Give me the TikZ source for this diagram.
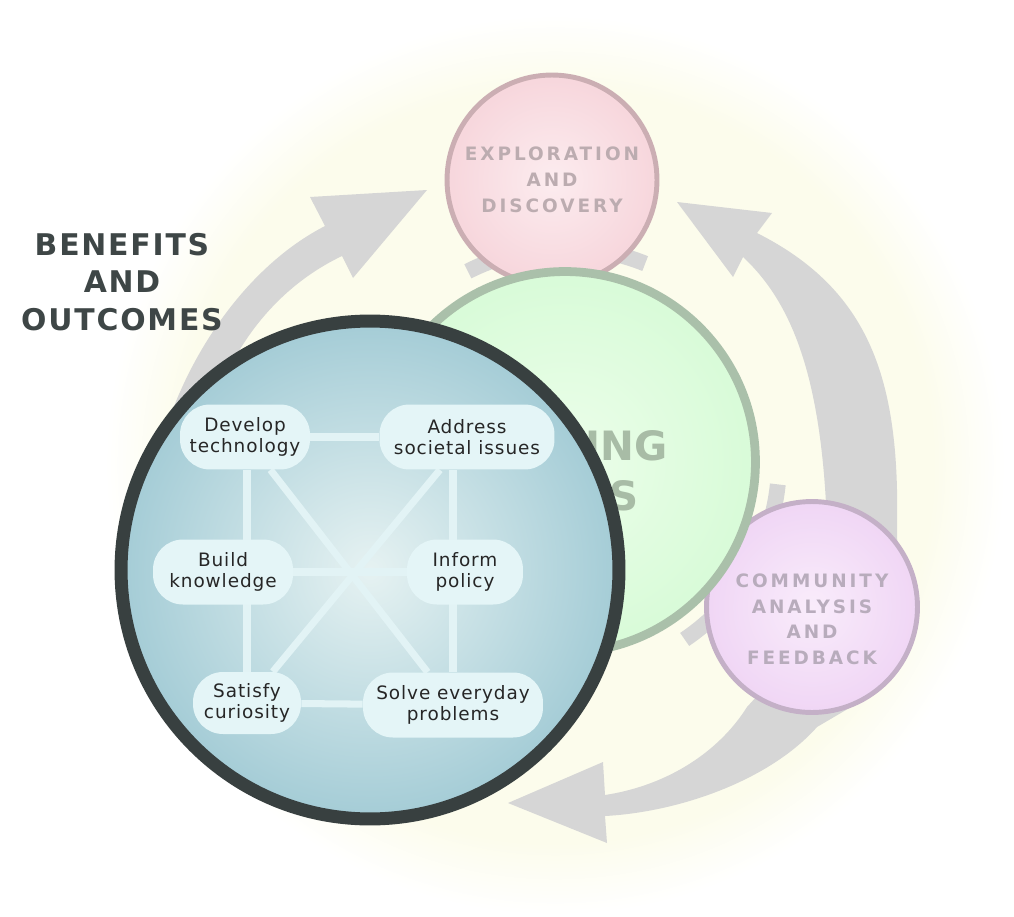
\documentclass[tikz,border=0pt]{standalone}
\usepackage{fontspec}
\setmainfont{DejaVu Sans}
\newfontfamily\pillfont[LetterSpace=5]{DejaVu Sans}
\newfontfamily\capsfont[LetterSpace=16]{DejaVu Sans}
\newfontfamily\headfont[LetterSpace=6]{DejaVu Sans}
\usepackage{tikz}

\definecolor{cream}{RGB}{252,252,236}
\definecolor{arrowgray}{RGB}{214,214,214}
\definecolor{pinkin}{RGB}{252,236,239}
\definecolor{pinkout}{RGB}{247,214,220}
\definecolor{pinkrim}{RGB}{203,174,179}
\definecolor{pinktext}{RGB}{188,172,176}
\definecolor{greenin}{RGB}{236,254,234}
\definecolor{greenout}{RGB}{216,251,216}
\definecolor{greenrim}{RGB}{170,192,170}
\definecolor{greentext}{RGB}{168,188,166}
\definecolor{lilacin}{RGB}{249,236,251}
\definecolor{lilacout}{RGB}{240,214,245}
\definecolor{lilacrim}{RGB}{196,176,199}
\definecolor{lilactext}{RGB}{184,172,188}
\definecolor{bluein}{RGB}{230,242,242}
\definecolor{blueout}{RGB}{164,204,214}
\definecolor{bluerim}{RGB}{56,64,64}
\definecolor{pillfill}{RGB}{228,245,247}
\definecolor{linkcol}{RGB}{226,243,245}
\definecolor{headcol}{RGB}{62,70,70}

\pgfdeclareradialshading{glow}{\pgfpoint{0bp}{0bp}}{color(0bp)=(cream); color(21bp)=(cream); color(25bp)=(white); color(50bp)=(white)}
\pgfdeclarelayer{bg}
\pgfdeclarelayer{fg}
\pgfsetlayers{bg,main,fg}

\begin{document}
\begin{tikzpicture}[x=0.02cm,y=-0.02cm,
    cnode/.style={draw,circle,inner sep=0pt,shade,align=center},
    captext/.style={align=center,font=\capsfont\bfseries\fontsize{10.5}{14.7}\selectfont},
    pill/.style={fill=pillfill,rounded corners=0.6cm,minimum height=1.3cm,inner sep=0pt,
        align=center,text=black!85,font=\pillfont\fontsize{10.5}{12}\selectfont},
    link/.style={draw=linkcol,line width=4pt},
    band/.style={fill=arrowgray},
    ring/.style={draw=arrowgray,line width=9pt}]
    \useasboundingbox (0,0) rectangle (1014,916);

    \begin{pgfonlayer}{bg}
    \shade[shading=glow] (555,465) circle[radius=450];
    \fill[band] (150,520) .. controls (150,420) and (220,280) .. (325,226) -- (310,197) -- (427,190)
        -- (353,278) -- (342,256) .. controls (250,300) and (195,400) .. (195,520) -- cycle;
    \fill[band] (898,580) -- (897,527) .. controls (900,380) and (870,290) .. (757,233) -- (772,213)
        -- (677,202) -- (733,277) -- (743,257) .. controls (800,310) and (828,400) .. (828,580) -- cycle;
    \fill[band] (880,690) -- (817,727) .. controls (770,780) and (680,812) .. (605,816) -- (607,843)
        -- (508,803) -- (603,762) -- (605,795) .. controls (670,785) and (720,750) .. (747,707) -- (790,660) -- cycle;
    \draw[ring] (565,462) ++(-68:214) arc[start angle=-68,end angle=-117,radius=214];
    \draw[ring] (565,462) ++(6:214) arc[start angle=6,end angle=56,radius=214];
    \end{pgfonlayer}

    \node[cnode,inner color=pinkin,outer color=pinkout,draw=pinkrim,line width=2.8pt,
        minimum size=4.2cm,text=pinktext,captext] (explore) at (552,180) {EXPLORATION\\AND\\DISCOVERY};
    \node[cnode,inner color=lilacin,outer color=lilacout,draw=lilacrim,line width=2.8pt,minimum size=4.22cm,
        label={[captext,text=lilactext,yshift=-7pt]center:{COMMUNITY\\ANALYSIS\\AND\\FEEDBACK}}] (community) at (812,607) {};
    \node[cnode,inner color=greenin,outer color=greenout,draw=greenrim,line width=5pt,minimum size=7.62cm,
        label={[align=center,text=greentext,font=\bfseries\fontsize{23}{28}\selectfont,xshift=3pt,yshift=-5pt]center:{TESTING\\IDEAS}}] (testing) at (565,462) {};
    \node[cnode,inner color=bluein,outer color=blueout,draw=bluerim,line width=7.4pt,minimum size=9.96cm] (benefits) at (370,570) {};

    \node[align=center,text=headcol,font=\headfont\bfseries\fontsize{17}{21.5}\selectfont] (title) at (122,282) {BENEFITS\\AND\\OUTCOMES};

    \begin{pgfonlayer}{fg}
    \node[pill,minimum width=2.6cm] (dev) at (245,437) {Develop\\technology};
    \node[pill,minimum width=3.5cm] (addr) at (467,437) {Address\\societal issues};
    \node[pill,minimum width=2.8cm] (build) at (223,572) {Build\\knowledge};
    \node[pill,minimum width=2.32cm] (inform) at (465,572) {Inform\\policy};
    \node[pill,minimum width=2.16cm,minimum height=1.24cm] (sat) at (247,703) {Satisfy\\curiosity};
    \node[pill,minimum width=3.6cm] (solve) at (453,705) {Solve everyday\\problems};
    \end{pgfonlayer}

    \draw[link] (dev) -- (addr);
    \draw[link] (build) -- (inform);
    \draw[link] (sat) -- (solve);
    \draw[link] (dev.south -| sat) -- (sat.north);
    \draw[link] (addr.south -| solve) -- (solve.north);
    \draw[link] (dev) -- (solve);
    \draw[link] (addr) -- (sat);
\end{tikzpicture}
\end{document}
